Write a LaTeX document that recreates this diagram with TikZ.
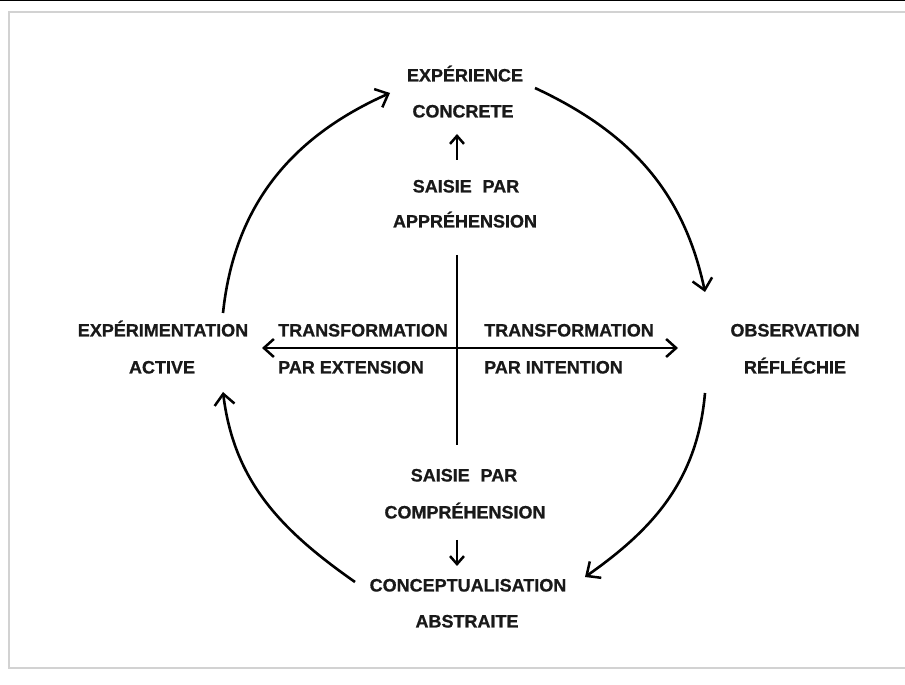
\documentclass[tikz,border=0pt]{standalone}
\usepackage{fontspec}
\setmainfont{Liberation Sans}[BoldFeatures={FakeBold=0.8}]
\usetikzlibrary{arrows.meta}
\begin{document}
\begin{tikzpicture}[x=1pt,y=1pt,
  lbl/.style={inner sep=0pt, font=\fontsize{18}{18}\selectfont\bfseries, text=black!90, anchor=base},
  lblw/.style={lbl, anchor=base west},
  bigtip/.style={Straight Barb[length=11pt,width=20pt,line width=2.5pt]},
  cyc/.style={line width=2.6pt, -{Straight Barb[length=11pt,width=20pt,line width=2.5pt]}},
  axis/.style={line width=2.6pt},
  small/.style={line width=2.5pt, -{Straight Barb[length=8pt,width=14pt,line width=2.5pt]}},
  frame/.style={draw=gray!35, line width=2.5pt}]
\useasboundingbox (0,0) rectangle (905,685);
% frame
\draw[frame] (912,673) -- (9,673) -- (9,17) -- (912,17);
\draw[line width=2pt] (0,684.5) -- (905,684.5);

% labels
\node[lbl] (ec1) at (465,603.5) {EXPÉRIENCE};
\node[lbl] (ec2) at (463,567.5) {CONCRETE};
\node[lbl] (sa1) at (466,492.5) {SAISIE\hspace{0.6em}PAR};
\node[lbl] (sa2) at (465,457.5) {APPRÉHENSION};
\node[lbl] (ea1) at (163,348.5) {EXPÉRIMENTATION};
\node[lbl] (ea2) at (162,311.5) {ACTIVE};
\node[lblw] (te1) at (278,348.5) {TRANSFORMATION};
\node[lblw] (te2) at (278,311.5) {PAR EXTENSION};
\node[lblw] (ti1) at (484,348.5) {TRANSFORMATION};
\node[lblw] (ti2) at (484,311.5) {PAR INTENTION};
\node[lbl] (or1) at (795,348.5) {OBSERVATION};
\node[lbl] (or2) at (795,311.5) {RÉFLÉCHIE};
\node[lbl] (sc1) at (464,203.5) {SAISIE\hspace{0.6em}PAR};
\node[lbl] (sc2) at (465,166.5) {COMPRÉHENSION};
\node[lbl] (ca1) at (468,93.5) {CONCEPTUALISATION};
\node[lbl] (ca2) at (467,57.5) {ABSTRAITE};

% axes
\coordinate (vtop) at (457,430);
\coordinate (vbot) at (457,240);
\coordinate (hl) at (262,337);
\coordinate (hr) at (678,337);
\draw[axis] (vtop) -- (vbot);
\draw[axis, {Straight Barb[length=10pt,width=18pt,line width=2.5pt]}-{Straight Barb[length=10pt,width=18pt,line width=2.5pt]}] (hl) -- (hr);

% small vertical arrows
\coordinate (ua1) at (457,525);
\coordinate (ua2) at (457,551);
\draw[small] (ua1) -- (ua2);
\coordinate (da1) at (457,145);
\coordinate (da2) at (457,119);
\draw[small] (da1) -- (da2);

% cycle arcs
\coordinate (a1s) at (223,372);
\coordinate (a1e) at (390,592);
\coordinate (a2s) at (535,597);
\coordinate (a2e) at (705,393);
\coordinate (a3s) at (705,292);
\coordinate (a3e) at (585,108);
\coordinate (a4s) at (355,103);
\coordinate (a4e) at (223,293);
\draw[cyc] (a1s) to[out=84,in=204] (a1e);
\draw[cyc] (a2s) to[out=-25,in=102] (a2e);
\draw[cyc] (a3s) to[out=-95,in=35] (a3e);
\draw[cyc] (a4s) to[out=145,in=-83] (a4e);
\end{tikzpicture}
\end{document}
